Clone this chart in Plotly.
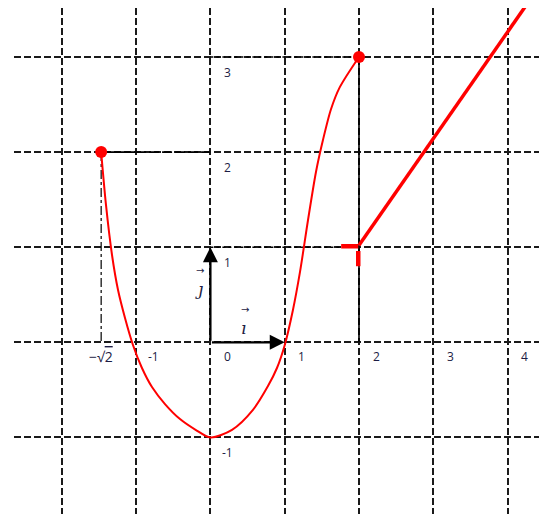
import plotly.graph_objects as go

# values
curve_x = [-1.47, -1.405, -1.324, -1.243, -1.149, -1.042, -0.921, -0.786, -0.611, -0.409, -0.194,
           0.0, 0.291, 0.573, 0.775, 0.896, 1.0, 1.111, 1.206, 1.314, 1.421, 1.515, 1.623, 1.74,
           2.0]
curve_y = [2.0, 1.444, 0.918, 0.55, 0.256, -0.028, -0.27, -0.47, -0.649, -0.807, -0.922,
           -1.0, -0.92, -0.71, -0.46, -0.27, -0.03, 0.34, 0.74, 1.286, 1.791, 2.127, 2.45, 2.68,
           3.0]
line_x = [2.0, 4.3]
line_y = [1.02, 3.6]
dots_x = [-1.47, 2.0]
dots_y = [2.0, 3.0]
neg_sqrt2 = -1.47
x_tick_vals = [-1, 0, 1, 2, 3, 4]
x_tick_text = ["-1", "0", "1", "2", "3", "4"]
y_tick_vals = [-1, 1, 2, 3]
y_tick_text = ["-1", "1", "2", "3"]

X_RANGE = [-2.643, 4.436]
Y_RANGE = [-1.805, 3.515]
LABEL_FONT = dict(family="Open Sans", size=12, color="#1c1c44")
VEC_FONT = dict(family="DejaVu Serif", size=17, color="#1c1c44")

fig = go.Figure()

# construction lines
fig.add_trace(go.Scatter(x=[0, 2], y=[3, 3], mode="lines",
                         line=dict(color="black", width=1.5, dash="dot")))
fig.add_trace(go.Scatter(x=[0, 2], y=[1, 1], mode="lines",
                         line=dict(color="black", width=1.5, dash="dot")))
fig.add_trace(go.Scatter(x=[neg_sqrt2, neg_sqrt2], y=[2, 0], mode="lines",
                         line=dict(color="black", width=1.2, dash="dashdot")))
fig.add_trace(go.Scatter(x=[neg_sqrt2, -1], y=[2, 2], mode="lines",
                         line=dict(color="black", width=1.6)))
fig.add_trace(go.Scatter(x=[-1, 0], y=[2, 2], mode="lines",
                         line=dict(color="black", width=1.6, dash="10px,3px")))
fig.add_trace(go.Scatter(x=[2, 2], y=[0, 3], mode="lines",
                         line=dict(color="black", width=1.6)))

# the function
fig.add_trace(go.Scatter(x=curve_x, y=curve_y, mode="lines",
                         line=dict(color="#ff0000", width=2, shape="spline", smoothing=0.8)))
fig.add_trace(go.Scatter(x=line_x, y=line_y, mode="lines",
                         line=dict(color="#ff0000", width=3.5)))
fig.add_trace(go.Scatter(x=[1.76, 1.99, None, 1.99, 1.99], y=[1.01, 1.01, None, 0.96, 0.8],
                         mode="lines", line=dict(color="#ff0000", width=4.5)))
fig.add_trace(go.Scatter(x=dots_x, y=dots_y, mode="markers",
                         marker=dict(color="#ff0000", size=12)))

# unit vectors
for tip in [(0, 1), (1, 0)]:
    fig.add_annotation(x=tip[0], y=tip[1], ax=0, ay=0, xref="x", yref="y", axref="x", ayref="y",
                       text="", showarrow=True, arrowhead=2, arrowsize=1.3, arrowwidth=2.3,
                       arrowcolor="black", standoff=0)

# vector names with small arrows on top
for name, cx, cy in [("ȷ", -0.16, 0.56), ("ı", 0.45, 0.15)]:
    fig.add_annotation(x=cx, y=cy, text=f"<i>{name}</i>", showarrow=False, font=VEC_FONT)
    fig.add_annotation(x=cx + 0.02, y=cy + 0.2, text="→", showarrow=False,
                       font=dict(family="DejaVu Sans", size=10, color="#1c1c44"))

# tick labels sitting inside the grid
for v, t in zip(x_tick_vals, x_tick_text):
    fig.add_annotation(x=v + 0.23, y=-0.15, text=t, showarrow=False, font=LABEL_FONT)
fig.add_annotation(x=neg_sqrt2, y=-0.15, text="−√<span style='text-decoration:overline'>2</span>",
                   showarrow=False, font=dict(family="Open Sans", size=14, color="#1c1c44"))
for v, t in zip(y_tick_vals, y_tick_text):
    fig.add_annotation(x=0.23, y=v - 0.16, text=t, showarrow=False, font=LABEL_FONT)

grid = dict(showgrid=True, gridcolor="#1a1a1a", gridwidth=1.6, griddash="7px,3px",
            dtick=1, tick0=0, zeroline=False, showticklabels=False, ticks="",
            showline=False, fixedrange=True)
fig.update_xaxes(range=X_RANGE, **grid)
fig.update_yaxes(range=Y_RANGE, **grid)

# the page body adds 8px, so the figure is a bit smaller than the window
fig.update_layout(width=539, height=506, showlegend=False,
                  margin=dict(l=6, r=7, t=0, b=0, autoexpand=False),
                  plot_bgcolor="white", paper_bgcolor="white")

fig.write_html("out.html")
